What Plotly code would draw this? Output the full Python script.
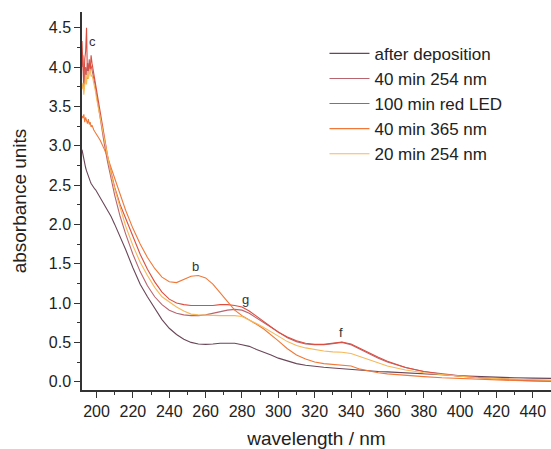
import plotly.graph_objects as go

# wavelength grid (nm)
wavelength = [192, 192.5, 193, 193.5, 194, 194.5, 195, 195.5, 196, 196.5, 197, 197.5, 198, 198.5, 199, 199.5, 200,
              202, 204, 206, 208, 210, 213, 216, 220, 224, 228, 232, 236, 240, 244, 248, 252, 256, 260, 264, 268,
              272, 276, 280, 284, 288, 292, 296, 300, 305, 310, 315, 320, 325, 330, 335, 340, 345, 350, 355, 360,
              370, 380, 390, 400, 410, 420, 430, 440, 450]

after_deposition = [2.95, 2.88, 2.82, 2.76, 2.72, 2.68, 2.64, 2.61, 2.58, 2.55, 2.52, 2.50, 2.48, 2.46, 2.45, 2.44, 2.42,
                    2.35, 2.27, 2.19, 2.10, 2.00, 1.85, 1.68, 1.45, 1.24, 1.08, 0.93, 0.79, 0.68, 0.60, 0.54, 0.50,
                    0.48, 0.475, 0.48, 0.49, 0.49, 0.49, 0.47, 0.45, 0.41, 0.38, 0.34, 0.30, 0.26, 0.23, 0.21, 0.195,
                    0.185, 0.175, 0.165, 0.155, 0.145, 0.135, 0.13, 0.125, 0.115, 0.10, 0.088, 0.075, 0.065, 0.057,
                    0.05, 0.046, 0.043]

min40_254 = [4.00, 4.15, 3.85, 3.78, 4.00, 3.90, 4.05, 3.95, 4.10, 3.98, 4.02, 3.95, 3.90, 3.85, 3.80, 3.72, 3.65,
             3.35, 3.06, 2.80, 2.57, 2.37, 2.10, 1.88, 1.62, 1.40, 1.22, 1.08, 0.98, 0.91, 0.87, 0.85, 0.84,
             0.84, 0.85, 0.87, 0.89, 0.91, 0.92, 0.91, 0.87, 0.81, 0.75, 0.69, 0.63, 0.56, 0.51, 0.48, 0.47,
             0.47, 0.485, 0.50, 0.47, 0.41, 0.35, 0.30, 0.25, 0.18, 0.13, 0.10, 0.075, 0.055, 0.04, 0.03, 0.02, 0.015]

min100_red_led = [4.33, 3.90, 3.72, 4.10, 4.20, 4.50, 3.85, 4.00, 4.05, 3.95, 4.15, 4.05, 3.98, 3.92, 3.85, 3.78, 3.70,
                  3.40, 3.12, 2.88, 2.66, 2.47, 2.25, 2.08, 1.85, 1.62, 1.43, 1.27, 1.14, 1.05, 1.00, 0.98, 0.97,
                  0.97, 0.97, 0.97, 0.98, 0.98, 0.97, 0.95, 0.90, 0.83, 0.77, 0.70, 0.63, 0.57, 0.52, 0.49, 0.475,
                  0.475, 0.49, 0.505, 0.48, 0.42, 0.36, 0.31, 0.26, 0.18, 0.13, 0.095, 0.07, 0.05, 0.035, 0.02, 0.01, 0.005]

min40_365 = [3.38, 3.35, 3.40, 3.30, 3.36, 3.33, 3.28, 3.34, 3.27, 3.30, 3.24, 3.26, 3.21, 3.20, 3.18, 3.16, 3.15,
             3.07, 2.97, 2.86, 2.72, 2.58, 2.38, 2.18, 1.95, 1.75, 1.58, 1.44, 1.33, 1.27, 1.26, 1.30, 1.34,
             1.35, 1.32, 1.24, 1.13, 1.01, 0.91, 0.84, 0.79, 0.73, 0.67, 0.60, 0.52, 0.42, 0.34, 0.29, 0.25,
             0.23, 0.22, 0.215, 0.20, 0.16, 0.135, 0.115, 0.10, 0.08, 0.065, 0.05, 0.04, 0.03, 0.022, 0.015, 0.01, 0.008]

min20_254 = [3.72, 3.80, 3.65, 3.85, 3.90, 3.78, 3.95, 3.85, 3.92, 3.97, 3.88, 3.90, 3.85, 3.80, 3.74, 3.68, 3.60,
             3.35, 3.10, 2.86, 2.64, 2.45, 2.20, 1.98, 1.73, 1.52, 1.35, 1.20, 1.08, 1.01, 0.95, 0.90, 0.86,
             0.85, 0.845, 0.84, 0.84, 0.84, 0.84, 0.83, 0.79, 0.74, 0.69, 0.63, 0.58, 0.51, 0.46, 0.43, 0.41,
             0.39, 0.38, 0.375, 0.36, 0.32, 0.27, 0.23, 0.20, 0.15, 0.115, 0.09, 0.07, 0.05, 0.04, 0.03, 0.025, 0.02]

series_names = ["after deposition", "40 min 254 nm", "100 min red LED", "40 min 365 nm", "20 min 254 nm"]
series_values = [after_deposition, min40_254, min100_red_led, min40_365, min20_254]
series_colors = ["#6a4657", "#b8656f", "#dc4f40", "#f07838", "#f7b858"]

peak_labels = ["c", "b", "g", "f"]
peak_x = [197.5, 254.7, 282, 334.6]
peak_y = [4.32, 1.46, 1.04, 0.62]

FONT = "Liberation Sans, Arial, sans-serif"

fig = go.Figure()
for name, vals, col in zip(series_names, series_values, series_colors):
    fig.add_trace(go.Scatter(x=wavelength, y=vals, mode="lines", name=name,
                             line=dict(color=col, width=1.1)))

for t, x, y in zip(peak_labels, peak_x, peak_y):
    fig.add_annotation(x=x, y=y, text=t, showarrow=False,
                       font=dict(family=FONT, size=13, color="#333333"))

axis_common = dict(showline=True, linecolor="#333333", linewidth=1.5, mirror=False,
                   ticks="outside", ticklen=6, tickwidth=1.3, tickcolor="#333333",
                   showgrid=False, zeroline=False,
                   tickfont=dict(family=FONT, size=16, color="#222222"))

fig.update_layout(
    width=551, height=449,
    margin=dict(l=82, r=0, t=12, b=59),
    plot_bgcolor="white", paper_bgcolor="white",
    font=dict(family=FONT, color="#222222"),
    showlegend=True,
    legend=dict(x=0.517, y=0.937, xanchor="left", yanchor="top",
                bgcolor="rgba(0,0,0,0)", font=dict(family=FONT, size=17, color="#222222"),
                tracegroupgap=0, itemwidth=40),
    xaxis=dict(range=[192, 450], tick0=200, dtick=20,
               minor=dict(ticks="outside", ticklen=3, dtick=10, tickcolor="#333333"),
               title=dict(text="wavelength / nm", font=dict(family=FONT, size=19, color="#222222"), standoff=14),
               **axis_common),
    yaxis=dict(range=[-0.105, 4.7], tick0=0, dtick=0.5, tickformat=".1f",
               minor=dict(ticks="outside", ticklen=3, dtick=0.25, tickcolor="#333333"),
               title=dict(text="absorbance units", font=dict(family=FONT, size=19, color="#222222"), standoff=17),
               **axis_common),
)

fig.write_html("out.html", config={"displayModeBar": False},
               post_script="document.body.style.margin='0';document.body.style.overflow='hidden';")
